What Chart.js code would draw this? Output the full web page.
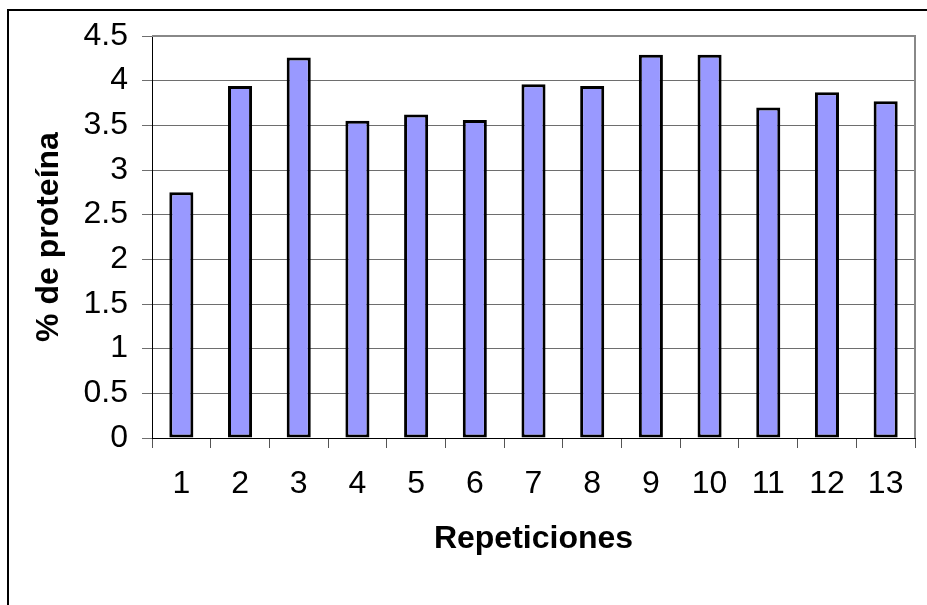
<!DOCTYPE html>
<html>
<head>
<meta charset="utf-8">
<script src="https://cdn.jsdelivr.net/npm/chart.js@4.4.1/dist/chart.umd.min.js"></script>
<style>
  html, body { margin: 0; padding: 0; background: #ffffff; }
  #wrap { width: 927px; height: 605px; position: relative; }
</style>
</head>
<body>
<div id="wrap"><canvas id="chart" width="927" height="605"></canvas></div>
<script>
// Protein content per repetition
const repeticiones = ['1', '2', '3', '4', '5', '6', '7', '8', '9', '10', '11', '12', '13'];
const proteina = [2.75, 3.94, 4.26, 3.55, 3.62, 3.56, 3.96, 3.94, 4.29, 4.29, 3.70, 3.87, 3.77];
const yTickLabels = ['0', '0.5', '1', '1.5', '2', '2.5', '3', '3.5', '4', '4.5'];

const FONT = "'Liberation Sans', Arial, sans-serif";

// Outer chart frame plus the grey top/right edge of the plot area
const framePlugin = {
  id: 'frame',
  afterDraw(chart) {
    const ctx = chart.ctx;
    const a = chart.chartArea;
    ctx.save();
    ctx.strokeStyle = '#888888';
    ctx.lineWidth = 2;
    ctx.beginPath();
    ctx.moveTo(a.left, a.top);
    ctx.lineTo(a.right, a.top);
    ctx.lineTo(a.right, a.bottom);
    ctx.stroke();
    ctx.strokeStyle = '#000000';
    ctx.lineWidth = 2;
    ctx.strokeRect(8, 10, 2000, 2000);
    ctx.restore();
  }
};

new Chart(document.getElementById('chart'), {
  type: 'bar',
  data: {
    labels: repeticiones,
    datasets: [{
      data: proteina,
      backgroundColor: '#9999FF',
      borderColor: '#000000',
      borderWidth: 3,
      borderSkipped: false,
      barPercentage: 0.41,
      categoryPercentage: 1.0
    }]
  },
  options: {
    responsive: false,
    animation: false,
    devicePixelRatio: 1,
    layout: { padding: { top: 36, right: 12, left: 0, bottom: 0 } },
    plugins: {
      legend: { display: false },
      tooltip: { enabled: false }
    },
    scales: {
      x: {
        offset: true,
        grid: {
          display: true,
          drawOnChartArea: false,
          drawTicks: true,
          tickLength: 10,
          color: '#555555',
          offset: true
        },
        border: { display: true, color: '#000000', width: 1 },
        ticks: {
          color: '#000000',
          font: { family: FONT, size: 32 },
          padding: 17,
          maxRotation: 0
        },
        title: {
          display: true,
          text: 'Repeticiones',
          color: '#000000',
          font: { family: FONT, size: 32, weight: 'bold' },
          padding: { top: 0, bottom: 47 }
        },
        afterFit(scale) { scale.height = 167; }
      },
      y: {
        min: 0,
        max: 4.5,
        ticks: {
          stepSize: 0.5,
          color: '#000000',
          font: { family: FONT, size: 32 },
          padding: 14,
          callback: (v, i) => yTickLabels[i]
        },
        grid: {
          color: '#6e6e6e',
          lineWidth: 1,
          drawTicks: true,
          tickLength: 10
        },
        border: { display: true, color: '#000000', width: 1 },
        title: {
          display: true,
          text: '% de proteína',
          color: '#000000',
          font: { family: FONT, size: 32, weight: 'bold' },
          padding: { top: 30, bottom: 0 }
        },
        afterFit(scale) { scale.width = 152; }
      }
    }
  },
  plugins: [framePlugin]
});
</script>
</body>
</html>
